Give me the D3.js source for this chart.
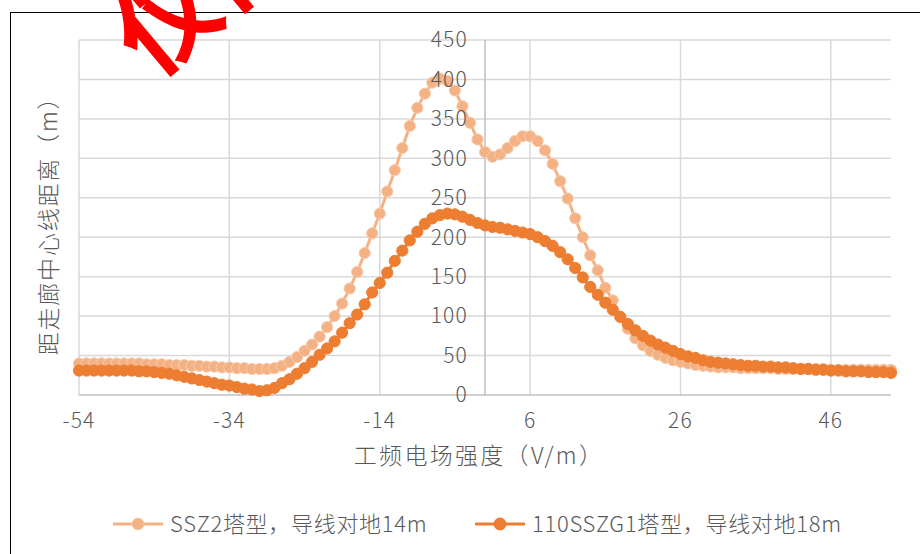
<!DOCTYPE html>
<html lang="zh">
<head>
<meta charset="UTF-8">
<title>工频电场强度</title>
<script src="https://d3js.org/d3.v7.min.js"></script>
<style>
  html, body { margin: 0; padding: 0; background: white; }
  body { font-family: "Noto Sans CJK SC", "Noto Sans", sans-serif; font-weight: 300; }
  .tick-label { fill: #595959; font-size: 21px; letter-spacing: 1.2px; }
  .axis-title { fill: #595959; font-size: 23px; letter-spacing: 2.3px; }
  .legend text { fill: #595959; font-size: 22px; letter-spacing: 0.7px; }
</style>
</head>
<body>
<div id="chart"></div>
<script>

// --------------------------------------
// Data
// --------------------------------------

const xValues = [-54, -53, -52, -51, -50, -49, -48, -47, -46, -45, -44, -43, -42, -41, -40,
  -39, -38, -37, -36, -35, -34, -33, -32, -31, -30, -29, -28, -27, -26, -25, -24, -23, -22,
  -21, -20, -19, -18, -17, -16, -15, -14, -13, -12, -11, -10, -9, -8, -7, -6, -5, -4, -3,
  -2, -1, 0, 1, 2, 3, 4, 5, 6, 7, 8, 9, 10, 11, 12, 13, 14, 15, 16, 17, 18, 19, 20, 21,
  22, 23, 24, 25, 26, 27, 28, 29, 30, 31, 32, 33, 34, 35, 36, 37, 38, 39, 40, 41, 42, 43,
  44, 45, 46, 47, 48, 49, 50, 51, 52, 53, 54];

const ssz2 = [40, 40, 40, 40, 40, 40, 40, 40, 40, 39, 39, 39, 38, 38, 38,
  37, 37, 36, 36, 35, 35, 34, 34, 33, 33, 33, 34, 37, 42, 48, 56, 64, 74,
  86, 100, 116, 135, 156, 180, 205, 230, 258, 285, 313, 341, 364, 382, 396, 401, 398, 386, 366,
  345, 324, 308, 302, 305, 313, 322, 328, 328, 322, 310, 293, 271, 249, 224, 200, 177, 158, 136, 120, 99, 84, 72, 63,
  56, 51, 47, 44, 42, 40, 38, 37, 36, 35, 35, 35, 34, 34, 34, 34, 34, 33, 33, 33, 33, 33,
  33, 33, 32, 32, 32, 32, 32, 32, 32, 32, 32];

const ssz_g1 = [31, 31, 31, 31, 31, 31, 31, 31, 30, 30, 29, 28, 27, 25, 23,
  21, 19, 17, 15, 13, 12, 10, 8, 7, 5, 6, 9, 15, 20, 27, 34, 42, 51,
  59, 68, 79, 91, 102, 115, 130, 142, 155, 170, 183, 196, 207, 217, 224, 228, 230, 229, 226,
  222, 218, 215, 213, 212, 210, 208, 206, 204, 200, 195, 189, 181, 172, 161, 149, 137, 127, 117, 108, 99, 90, 82, 75,
  69, 64, 60, 56, 52, 49, 47, 44, 42, 41, 40, 39, 38, 37, 37, 36, 36, 35, 35, 34, 33, 33,
  32, 32, 31, 31, 30, 30, 30, 29, 29, 29, 28];

const xTicks = [-54, -34, -14, 6, 26, 46];
const yTicks = [0, 50, 100, 150, 200, 250, 300, 350, 400, 450];

const seriesNames = ["SSZ2塔型，导线对地14m", "110SSZG1塔型，导线对地18m"];
const seriesColors = ["#F4B183", "#ED7D31"];

// --------------------------------------
// Size and scales
// --------------------------------------

const totalWidth = 920;
const totalHeight = 554;

const x = d3.scaleLinear().domain([-54, 54]).range([79, 891]);
const y = d3.scaleLinear().domain([0, 450]).range([395, 40]);

const svg = d3.select("#chart")
  .append("svg")
  .attr("width", totalWidth)
  .attr("height", totalHeight);

// chart frame (runs past the picture on the right and bottom)
svg.append("rect")
  .attr("x", 10.5).attr("y", 12.5)
  .attr("width", 1000).attr("height", 1000)
  .attr("fill", "none").attr("stroke", "#000").attr("stroke-width", 1);

// --------------------------------------
// Grid
// --------------------------------------

svg.append("g")
  .selectAll("line")
  .data(yTicks.filter(d => d > 0))
  .join("line")
  .attr("x1", x(-54)).attr("x2", x(54))
  .attr("y1", d => y(d)).attr("y2", d => y(d))
  .attr("stroke", "#D9D9D9").attr("stroke-width", 1.5);

svg.append("g")
  .selectAll("line")
  .data(xTicks)
  .join("line")
  .attr("x1", d => x(d)).attr("x2", d => x(d))
  .attr("y1", y(0)).attr("y2", y(450))
  .attr("stroke", "#D9D9D9").attr("stroke-width", 1.5);

// axis lines
svg.append("line")
  .attr("x1", x(-54)).attr("x2", x(54))
  .attr("y1", y(0)).attr("y2", y(0))
  .attr("stroke", "#BFBFBF").attr("stroke-width", 1.5);

svg.append("line")
  .attr("x1", x(0)).attr("x2", x(0))
  .attr("y1", y(0)).attr("y2", y(450))
  .attr("stroke", "#BFBFBF").attr("stroke-width", 1.5);

// --------------------------------------
// Series
// --------------------------------------

const series = [ssz2, ssz_g1];

series.forEach((vals, k) => {
  const pts = xValues.map((d, i) => [d, vals[i]]);
  const g = svg.append("g");

  g.append("path")
    .datum(pts)
    .attr("fill", "none")
    .attr("stroke", seriesColors[k])
    .attr("stroke-width", 3)
    .attr("d", d3.line().x(d => x(d[0])).y(d => y(d[1])));

  g.selectAll("circle")
    .data(pts)
    .join("circle")
    .attr("cx", d => x(d[0]))
    .attr("cy", d => y(d[1]))
    .attr("r", 5.6)
    .attr("fill", seriesColors[k])
    .attr("stroke", k === 0 ? "#F8CBAD" : seriesColors[k])
    .attr("stroke-width", 1);
});

// --------------------------------------
// Tick labels (on top of the data, like the original)
// --------------------------------------

svg.append("g")
  .selectAll("text")
  .data(yTicks)
  .join("text")
  .attr("class", "tick-label")
  .attr("x", x(0) - 17)
  .attr("y", d => y(d))
  .attr("dy", "0.35em")
  .attr("text-anchor", "end")
  .text(d => d);

svg.append("g")
  .selectAll("text")
  .data(xTicks)
  .join("text")
  .attr("class", "tick-label")
  .attr("x", d => x(d))
  .attr("y", y(0) + 26)
  .attr("dy", "0.35em")
  .attr("text-anchor", "middle")
  .text(d => d);

// axis titles
svg.append("text")
  .attr("class", "axis-title")
  .attr("x", 479)
  .attr("y", 456)
  .attr("dy", "0.35em")
  .attr("text-anchor", "middle")
  .text("工频电场强度（V/m）");

svg.append("text")
  .attr("class", "axis-title")
  .style("letter-spacing", "1.8px")
  .attr("transform", "translate(49,220) rotate(-90)")
  .attr("dy", "0.35em")
  .attr("text-anchor", "middle")
  .text("距走廊中心线距离（m）");

// --------------------------------------
// Legend
// --------------------------------------

const legendX = [113, 475];
const legend = svg.append("g").attr("class", "legend");

seriesNames.forEach((name, k) => {
  const lg = legend.append("g").attr("transform", `translate(${legendX[k]},524)`);
  lg.append("line")
    .attr("x1", 0).attr("x2", 50)
    .attr("stroke", seriesColors[k]).attr("stroke-width", 3);
  lg.append("circle")
    .attr("cx", 25).attr("r", 6)
    .attr("fill", seriesColors[k])
    .attr("stroke", k === 0 ? "#F8CBAD" : seriesColors[k]);
  lg.append("text")
    .attr("x", 57)
    .attr("dy", "0.35em")
    .text(name);
});

// --------------------------------------
// Red stamp at the top, mostly cut off
// --------------------------------------

svg.append("text")
  .attr("transform", "translate(152,81) rotate(-40)")
  .attr("fill", "#FF0000")
  .attr("font-size", 100)
  .attr("font-weight", 700)
  .text("仅供参考");

</script>
</body>
</html>
